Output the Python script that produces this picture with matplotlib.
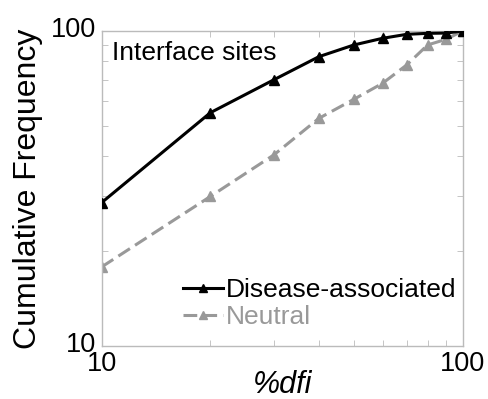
import matplotlib.pyplot as plt
from matplotlib.ticker import FuncFormatter, NullFormatter, LogLocator
from matplotlib.transforms import ScaledTranslation

plt.rcParams['font.family'] = ['Liberation Sans', 'DejaVu Sans']

dfi = [10, 20, 30, 40, 50, 60, 70, 80, 90, 100]
disease = [28.5, 55, 70, 82.9, 90.3, 94.8, 97.6, 98.3, 98.5, 100]
neutral = [17.8, 29.8, 40.4, 52.8, 60.7, 68.2, 78, 90.3, 94.1, 100]

fig = plt.figure(figsize=(4.89, 3.99), dpi=100)
ax = fig.add_axes([0.208, 0.1336, 0.738, 0.7887])

ax.plot(dfi, disease, color='black', lw=2.2, marker='^', ms=7,
        label='Disease-associated', zorder=3)
ax.plot(dfi, neutral, color='#999999', lw=2.2, ls=(0, (4.5, 2)), marker='^', ms=7,
        label='Neutral', zorder=2)

ax.set_xscale('log')
ax.set_yscale('log')
ax.set_xlim(10, 100)
ax.set_ylim(10, 100)

fmt = FuncFormatter(lambda v, p: '%d' % round(v))
for axis in (ax.xaxis, ax.yaxis):
    axis.set_major_locator(LogLocator(base=10))
    axis.set_major_formatter(fmt)
    axis.set_minor_locator(LogLocator(base=10, subs=range(2, 10)))
    axis.set_minor_formatter(NullFormatter())

for s in ax.spines.values():
    s.set_color('#bbbbbb')
    s.set_linewidth(1.0)
ax.tick_params(which='both', direction='in', top=True, right=True,
               color='#bbbbbb', labelsize=19.5)
ax.tick_params(which='major', length=0, pad=4)
ax.tick_params(which='minor', length=4)

# nudge y tick labels up a little, like the original
shift = ScaledTranslation(0, 4 / 100, fig.dpi_scale_trans)
for lbl in ax.get_yticklabels():
    lbl.set_transform(lbl.get_transform() + shift)

ax.set_ylabel('Cumulative Frequency', fontsize=23, labelpad=6)
ax.set_xlabel('%dfi', fontsize=22, style='italic', labelpad=-5)

ax.text(0.028, 0.93, 'Interface sites', transform=ax.transAxes,
        fontsize=19, va='center', ha='left')

leg = ax.legend(loc='lower right', bbox_to_anchor=(0.99, 0.045), frameon=False,
                fontsize=19, handlelength=1.5, handletextpad=0.12,
                labelspacing=0.1, borderaxespad=0.0, borderpad=0.1,
                labelcolor='linecolor', markerscale=0.8)

fig.savefig('out.png', dpi=100)
